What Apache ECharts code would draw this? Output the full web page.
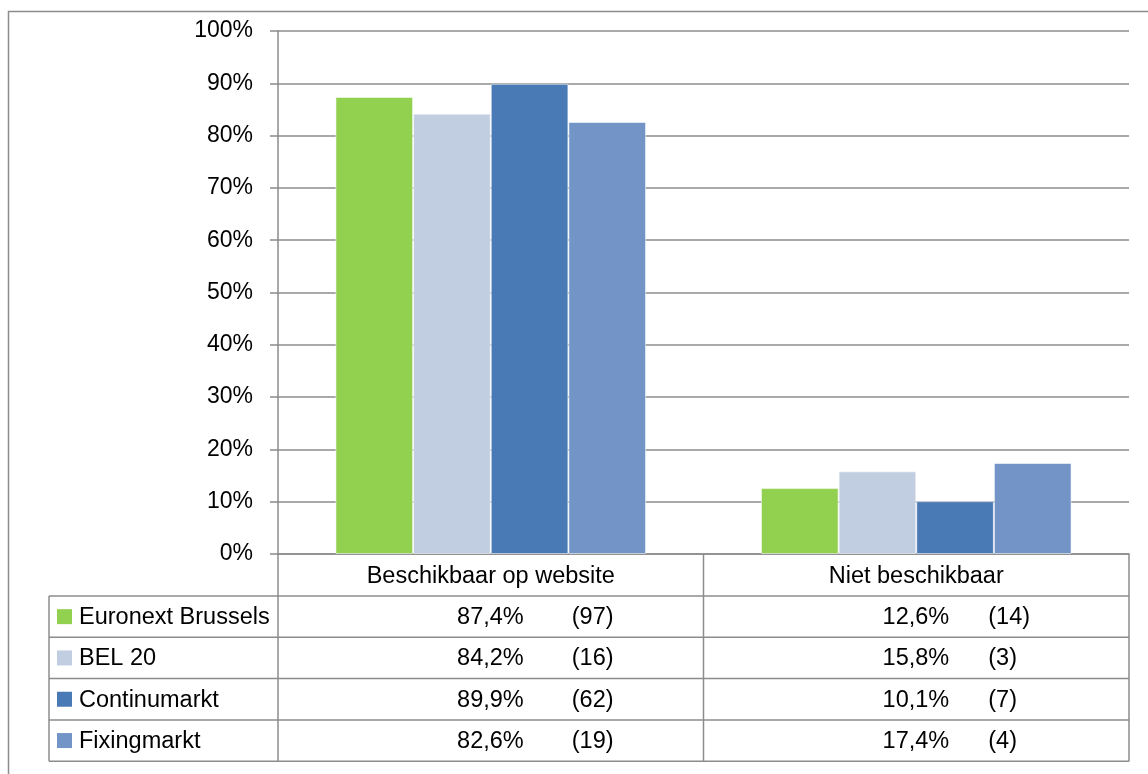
<!DOCTYPE html>
<html><head><meta charset="utf-8">
<script src="https://cdn.jsdelivr.net/npm/echarts@6/dist/echarts.min.js"></script>
<style>html,body{margin:0;padding:0;background:#fff;overflow:hidden}#c{width:1148px;height:774px}</style>
</head><body><div id="c"></div>
<script>
// ---- data ----
const categories = ['Beschikbaar op website', 'Niet beschikbaar'];
const seriesNames = ['Euronext Brussels', 'BEL 20', 'Continumarkt', 'Fixingmarkt'];
const euronextPct = [87.4, 12.6];
const bel20Pct = [84.2, 15.8];
const continuPct = [89.9, 10.1];
const fixingPct = [82.6, 17.4];
const euronextN = [97, 14];
const bel20N = [16, 3];
const continuN = [62, 7];
const fixingN = [19, 4];
const yTicks = [0, 10, 20, 30, 40, 50, 60, 70, 80, 90, 100];

// ---- styling / layout ----
const colors = ['#92D050', '#C1CDE1', '#4A7AB5', '#7294C6'];
const FONT = 'Liberation Sans, Arial, sans-serif';
const FS = 23.5;
const LINE = '#8c8c8c';
const W = 1148, H = 774;
const G = { left: 278, top: 31, right: 19, bottom: 220 };
const gridRight = W - G.right;
const gridBottom = H - G.bottom;

const pctSeries = [euronextPct, bel20Pct, continuPct, fixingPct];
const cntSeries = [euronextN, bel20N, continuN, fixingN];

const chart = echarts.init(document.getElementById('c'), null, { renderer: 'canvas' });

const option = {
  animation: false,
  backgroundColor: '#ffffff',
  grid: { left: G.left, top: G.top, right: G.right, bottom: G.bottom, containLabel: false },
  xAxis: {
    type: 'category',
    data: categories,
    axisLine: { show: true, lineStyle: { color: LINE, width: 1.5 } },
    axisTick: { show: false },
    axisLabel: { show: true, color: '#000', fontFamily: FONT, fontSize: FS, margin: 11 },
    splitLine: { show: false }
  },
  yAxis: {
    type: 'value',
    min: yTicks[0], max: yTicks[yTicks.length - 1], interval: yTicks[1] - yTicks[0],
    axisLine: { show: true, lineStyle: { color: LINE, width: 1.5 } },
    axisTick: { show: true, inside: false, length: 8, lineStyle: { color: LINE, width: 1.5 } },
    axisLabel: { color: '#000', fontFamily: FONT, fontSize: 23, margin: 25, formatter: v => v + '%' },
    splitLine: { show: true, lineStyle: { color: LINE, width: 1.5 } }
  },
  series: seriesNames.map((name, i) => ({
    name: name,
    type: 'bar',
    data: pctSeries[i],
    barGap: '0%',
    barCategoryGap: '27%',
    itemStyle: { color: colors[i], borderColor: 'rgba(255,255,255,0.55)', borderWidth: 1 }
  }))
};
chart.setOption(option);

// ---- data table below the plot ----
const headerH = 42;
const rowH = 41.3;
const tableLeft = 49;
const legendSq = 15;
const elements = [];
const lineStyle = { stroke: LINE, lineWidth: 1.5 };

// outer chart frame (cropped at right and bottom)
elements.push({ type: 'rect', shape: { x: 8.5, y: 11.5, width: W + 20, height: H + 20 }, style: { fill: null, stroke: LINE, lineWidth: 1.5 }, silent: true, z: -1 });

const centers = categories.map(c => chart.convertToPixel({ xAxisIndex: 0 }, c));
const catW = (gridRight - G.left) / categories.length;
const tableBottom = gridBottom + headerH + rowH * seriesNames.length;

// horizontal lines
for (let r = 0; r <= seriesNames.length; r++) {
  const y = gridBottom + headerH + r * rowH;
  elements.push({ type: 'line', shape: { x1: tableLeft, y1: y, x2: gridRight, y2: y }, style: lineStyle, silent: true });
}
// vertical lines
elements.push({ type: 'line', shape: { x1: tableLeft, y1: gridBottom + headerH, x2: tableLeft, y2: tableBottom }, style: lineStyle, silent: true });
for (let c = 0; c <= categories.length; c++) {
  const x = G.left + c * catW;
  elements.push({ type: 'line', shape: { x1: x, y1: gridBottom, x2: x, y2: tableBottom }, style: lineStyle, silent: true });
}
// rows
const cntOffset = [81, 72];
seriesNames.forEach((name, r) => {
  const cy = gridBottom + headerH + r * rowH + rowH / 2 + 1;
  elements.push({ type: 'rect', shape: { x: 57, y: cy - 1 - legendSq / 2, width: legendSq, height: legendSq }, style: { fill: colors[r] }, silent: true });
  elements.push({ type: 'text', x: 79, y: cy, style: { text: name, fill: '#000', font: FS + 'px ' + FONT, textVerticalAlign: 'middle', textAlign: 'left' }, silent: true });
  categories.forEach((cat, c) => {
    const pctTxt = pctSeries[r][c].toFixed(1).replace('.', ',') + '%';
    elements.push({ type: 'text', x: centers[c] + 33, y: cy, style: { text: pctTxt, fill: '#000', font: FS + 'px ' + FONT, textVerticalAlign: 'middle', textAlign: 'right' }, silent: true });
    elements.push({ type: 'text', x: centers[c] + cntOffset[c], y: cy, style: { text: '(' + cntSeries[r][c] + ')', fill: '#000', font: FS + 'px ' + FONT, textVerticalAlign: 'middle', textAlign: 'left' }, silent: true });
  });
});
chart.setOption({ graphic: { elements: elements } });
</script>
</body></html>
